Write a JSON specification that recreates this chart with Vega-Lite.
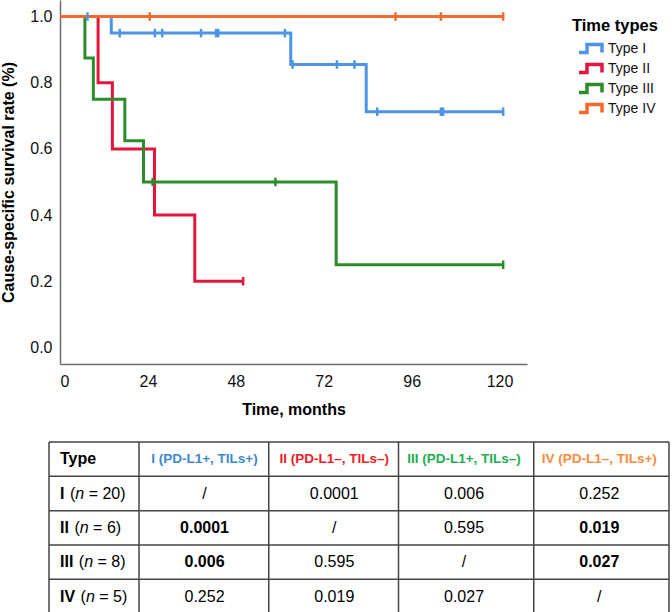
{
  "$schema": "https://vega.github.io/schema/vega-lite/v6.json",
  "padding": {"left": 0, "top": 0, "right": 0, "bottom": 0},
  "spacing": 24,
  "config": {
    "font": "Liberation Sans",
    "view": {"stroke": null},
    "axis": {"grid": false, "ticks": false, "domainColor": "#6e6e6e", "domainWidth": 1.5, "labelFontSize": 16, "labelColor": "#111111", "titleFontSize": 16, "titleFontWeight": "bold", "titleColor": "#000000"}
  },
  "resolve": {"scale": {"x": "independent", "y": "independent", "color": "independent"}, "legend": {"color": "independent"}},
  "datasets": {
    "curves": [
      {"type": "Type I", "t": 0, "s": 1}, {"type": "Type I", "t": 14, "s": 0.95}, {"type": "Type I", "t": 63, "s": 0.855}, {"type": "Type I", "t": 83.6, "s": 0.7125}, {"type": "Type I", "t": 121, "s": 0.7125},
      {"type": "Type II", "t": 0, "s": 1}, {"type": "Type II", "t": 10.4, "s": 0.8}, {"type": "Type II", "t": 14.3, "s": 0.6}, {"type": "Type II", "t": 25.8, "s": 0.4}, {"type": "Type II", "t": 36.8, "s": 0.2}, {"type": "Type II", "t": 50, "s": 0.2},
      {"type": "Type III", "t": 0, "s": 1}, {"type": "Type III", "t": 6.8, "s": 0.875}, {"type": "Type III", "t": 9.1, "s": 0.75}, {"type": "Type III", "t": 17.7, "s": 0.625}, {"type": "Type III", "t": 22.8, "s": 0.5}, {"type": "Type III", "t": 75.4, "s": 0.25}, {"type": "Type III", "t": 121, "s": 0.25},
      {"type": "Type IV", "t": 0, "s": 1}, {"type": "Type IV", "t": 121, "s": 1}
    ],
    "censor": [
      {"type": "Type I", "t": 7.5, "s": 1}, {"type": "Type I", "t": 16.3, "s": 0.95}, {"type": "Type I", "t": 25.9, "s": 0.95}, {"type": "Type I", "t": 27.9, "s": 0.95}, {"type": "Type I", "t": 38.5, "s": 0.95}, {"type": "Type I", "t": 42.6, "s": 0.95}, {"type": "Type I", "t": 43.2, "s": 0.95}, {"type": "Type I", "t": 61.4, "s": 0.95},
      {"type": "Type I", "t": 63.5, "s": 0.855}, {"type": "Type I", "t": 75.6, "s": 0.855}, {"type": "Type I", "t": 80.4, "s": 0.855},
      {"type": "Type I", "t": 86.6, "s": 0.7125}, {"type": "Type I", "t": 104, "s": 0.7125}, {"type": "Type I", "t": 104.6, "s": 0.7125}, {"type": "Type I", "t": 121, "s": 0.7125},
      {"type": "Type II", "t": 50, "s": 0.2},
      {"type": "Type III", "t": 25.3, "s": 0.5}, {"type": "Type III", "t": 58.8, "s": 0.5}, {"type": "Type III", "t": 121, "s": 0.25},
      {"type": "Type IV", "t": 24.5, "s": 1}, {"type": "Type IV", "t": 91.6, "s": 1}, {"type": "Type IV", "t": 104, "s": 1}, {"type": "Type IV", "t": 121, "s": 1}
    ],
    "hlines": [{"r": 0}, {"r": 1}, {"r": 2}, {"r": 3}, {"r": 4}, {"r": 5}],
    "vlines": [{"c": 0}, {"c": 1}, {"c": 2}, {"c": 3}, {"c": 4}, {"c": 5}],
    "heads": [
      {"col": 0, "label": "Type", "grp": "none"},
      {"col": 1, "label": "I (PD-L1+, TILs+)", "grp": "I"},
      {"col": 2, "label": "II (PD-L1–, TILs–)", "grp": "II"},
      {"col": 3, "label": "III (PD-L1+, TILs–)", "grp": "III"},
      {"col": 4, "label": "IV (PD-L1–, TILs+)", "grp": "IV"}
    ],
    "rows": [
      {"row": 1, "num": "I", "n": "20"},
      {"row": 2, "num": "II", "n": "6"},
      {"row": 3, "num": "III", "n": "8"},
      {"row": 4, "num": "IV", "n": "5"}
    ],
    "cells": [
      {"row": 1, "col": 1, "v": "/", "sig": false}, {"row": 1, "col": 2, "v": "0.0001", "sig": false}, {"row": 1, "col": 3, "v": "0.006", "sig": false}, {"row": 1, "col": 4, "v": "0.252", "sig": false},
      {"row": 2, "col": 1, "v": "0.0001", "sig": true}, {"row": 2, "col": 2, "v": "/", "sig": false}, {"row": 2, "col": 3, "v": "0.595", "sig": false}, {"row": 2, "col": 4, "v": "0.019", "sig": true},
      {"row": 3, "col": 1, "v": "0.006", "sig": true}, {"row": 3, "col": 2, "v": "0.595", "sig": false}, {"row": 3, "col": 3, "v": "/", "sig": false}, {"row": 3, "col": 4, "v": "0.027", "sig": true},
      {"row": 4, "col": 1, "v": "0.252", "sig": false}, {"row": 4, "col": 2, "v": "0.019", "sig": false}, {"row": 4, "col": 3, "v": "0.027", "sig": false}, {"row": 4, "col": 4, "v": "/", "sig": false}
    ]
  },
  "vconcat": [
    {
      "width": 467,
      "height": 364,
      "layer": [
        {
          "data": {"name": "curves"},
          "mark": {"type": "line", "interpolate": "step-after", "strokeWidth": 3},
          "encoding": {
            "x": {"field": "t", "type": "quantitative", "scale": {"domain": [0, 127.5], "nice": false, "zero": false}, "axis": {"values": [0, 24, 48, 72, 96, 120], "title": "Time, months", "labelPadding": 9, "titlePadding": 12}},
            "y": {"field": "s", "type": "quantitative", "scale": {"domain": [-0.05, 1.05], "nice": false, "zero": false}, "axis": {"values": [0, 0.2, 0.4, 0.6, 0.8, 1], "format": ".1f", "title": "Cause-specific survival rate (%)", "labelPadding": 8, "titlePadding": 13}},
            "color": {
              "field": "type", "type": "nominal",
              "scale": {"domain": ["Type I", "Type II", "Type III", "Type IV"], "range": ["#4D94E6", "#E2163C", "#2C8C2C", "#F56A2A"]},
              "legend": {"title": "Time types", "orient": "none", "legendX": 512, "legendY": 18, "titleFontSize": 16.5, "titleFontWeight": "bold", "titleColor": "#000000", "titlePadding": 6, "labelFontSize": 14, "labelColor": "#111111", "symbolType": "M-2.83,0.67L-1.5,0.67L-1.5,-0.67L1,-0.67L1,0.67", "symbolSize": 144, "symbolStrokeWidth": 3.5, "symbolFillColor": "transparent", "symbolOffset": 16, "labelOffset": 4, "rowPadding": -5.3, "padding": 0}
            }
          }
        },
        {
          "data": {"name": "censor"},
          "mark": {"type": "point", "shape": "M0,-1L0,1", "filled": false, "size": 72, "strokeWidth": 2.5, "opacity": 1},
          "encoding": {
            "x": {"field": "t", "type": "quantitative"},
            "y": {"field": "s", "type": "quantitative"},
            "color": {"field": "type", "type": "nominal"}
          }
        }
      ]
    },
    {
      "width": 609,
      "height": 171.7,
      "layer": [
        {
          "data": {"name": "hlines"},
          "mark": {"type": "rule", "color": "#444444", "strokeWidth": 1.5},
          "encoding": {
            "y": {"field": "r", "type": "quantitative", "scale": {"type": "linear", "domain": [0, 5], "range": [0, 171.7], "nice": false, "zero": false}, "axis": null},
            "x": {"datum": 0, "type": "quantitative", "scale": {"type": "linear", "domain": [0, 1, 3, 5], "range": [-11, 79, 338.5, 609], "nice": false, "zero": false}, "axis": null},
            "x2": {"datum": 5}
          }
        },
        {
          "data": {"name": "vlines"},
          "mark": {"type": "rule", "color": "#444444", "strokeWidth": 1.5},
          "encoding": {"x": {"field": "c", "type": "quantitative"}, "y": {"datum": 0, "type": "quantitative"}, "y2": {"datum": 5}}
        },
        {
          "data": {"name": "heads"},
          "transform": [{"filter": "datum.col == 0"}],
          "mark": {"type": "text", "align": "left", "baseline": "middle", "dx": 11, "dy": 17.2, "fontSize": 16, "fontWeight": "bold", "color": "#000000"},
          "encoding": {"x": {"field": "col", "type": "quantitative"}, "y": {"datum": 0, "type": "quantitative"}, "text": {"field": "label"}}
        },
        {
          "data": {"name": "heads"},
          "transform": [{"filter": "datum.col > 0"}],
          "mark": {"type": "text", "align": "center", "baseline": "middle", "dx": 65.5, "dy": 17.2, "fontSize": 13.5, "fontWeight": "bold"},
          "encoding": {
            "x": {"field": "col", "type": "quantitative"},
            "y": {"datum": 0, "type": "quantitative"},
            "text": {"field": "label"},
            "color": {"field": "grp", "type": "nominal", "scale": {"domain": ["I", "II", "III", "IV"], "range": ["#3D87D0", "#EE1B24", "#1DAE4E", "#F58B3E"]}, "legend": null}
          }
        },
        {
          "data": {"name": "rows"},
          "mark": {"type": "text", "align": "left", "baseline": "middle", "dx": 11, "dy": 17.2, "fontSize": 16, "fontWeight": "bold", "color": "#000000"},
          "encoding": {"x": {"datum": 0, "type": "quantitative"}, "y": {"field": "row", "type": "quantitative"}, "text": {"field": "num"}}
        },
        {
          "data": {"name": "rows"},
          "mark": {"type": "text", "align": "left", "baseline": "middle", "dx": {"expr": "16.5 + 4.45*length(datum.num) + (indexof(datum.num,'V') >= 0 ? 6.2 : 0)"}, "dy": 17.2, "fontSize": 16, "color": "#000000", "text": "("},
          "encoding": {"x": {"datum": 0, "type": "quantitative"}, "y": {"field": "row", "type": "quantitative"}}
        },
        {
          "data": {"name": "rows"},
          "mark": {"type": "text", "align": "left", "baseline": "middle", "dx": {"expr": "21.83 + 4.45*length(datum.num) + (indexof(datum.num,'V') >= 0 ? 6.2 : 0)"}, "dy": 17.2, "fontSize": 16, "fontStyle": "italic", "color": "#000000", "text": "n"},
          "encoding": {"x": {"datum": 0, "type": "quantitative"}, "y": {"field": "row", "type": "quantitative"}}
        },
        {
          "data": {"name": "rows"},
          "mark": {"type": "text", "align": "left", "baseline": "middle", "dx": {"expr": "35.2 + 4.45*length(datum.num) + (indexof(datum.num,'V') >= 0 ? 6.2 : 0)"}, "dy": 17.2, "fontSize": 16, "color": "#000000", "text": {"expr": "'= ' + datum.n + ')'"}},
          "encoding": {"x": {"datum": 0, "type": "quantitative"}, "y": {"field": "row", "type": "quantitative"}}
        },
        {
          "data": {"name": "cells"},
          "transform": [{"filter": "!datum.sig"}],
          "mark": {"type": "text", "align": "center", "baseline": "middle", "dx": 65.5, "dy": 17.2, "fontSize": 16, "color": "#000000"},
          "encoding": {"x": {"field": "col", "type": "quantitative"}, "y": {"field": "row", "type": "quantitative"}, "text": {"field": "v"}}
        },
        {
          "data": {"name": "cells"},
          "transform": [{"filter": "datum.sig"}],
          "mark": {"type": "text", "align": "center", "baseline": "middle", "dx": 65.5, "dy": 17.2, "fontSize": 16, "fontWeight": "bold", "color": "#000000"},
          "encoding": {"x": {"field": "col", "type": "quantitative"}, "y": {"field": "row", "type": "quantitative"}, "text": {"field": "v"}}
        }
      ]
    }
  ]
}
